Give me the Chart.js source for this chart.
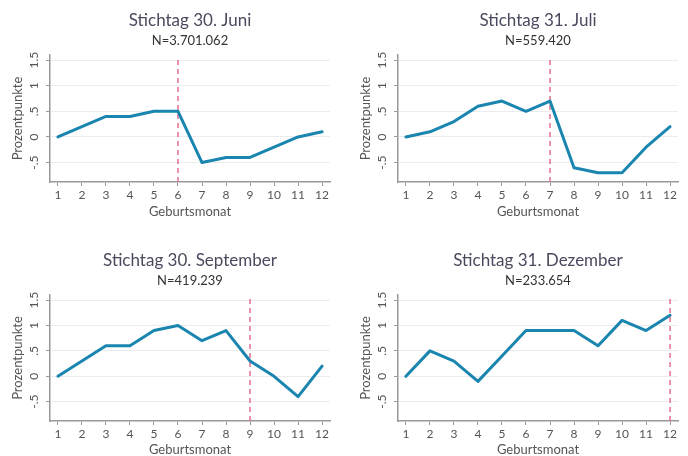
<!DOCTYPE html>
<html>
<head>
<meta charset="utf-8">
<script src="https://cdn.jsdelivr.net/npm/chart.js@4"></script>
<style>
  html, body { margin:0; padding:0; background:#fff; }
  #wrap { position:relative; width:688px; height:456px; }
  .panel { position:absolute; width:344px; height:228px; }
</style>
</head>
<body>
<div id="wrap">
  <div class="panel" style="left:0;top:0"><canvas id="c0" width="344" height="228"></canvas></div>
  <div class="panel" style="left:344px;top:0"><canvas id="c1" width="344" height="228"></canvas></div>
  <div class="panel" style="left:0;top:228px"><canvas id="c2" width="344" height="228"></canvas></div>
  <div class="panel" style="left:344px;top:228px"><canvas id="c3" width="344" height="228"></canvas></div>
</div>
<script>
// Geburtsmonat 1..12
const months = [1, 2, 3, 4, 5, 6, 7, 8, 9, 10, 11, 12];
const yTicks = [-0.5, 0, 0.5, 1, 1.5];
const yTickLabels = ['-.5', '0', '.5', '1', '1.5'];

const titles = ['Stichtag 30. Juni', 'Stichtag 31. Juli', 'Stichtag 30. September', 'Stichtag 31. Dezember'];
const nLabels = ['N=3.701.062', 'N=559.420', 'N=419.239', 'N=233.654'];
const cutoffs = [6, 7, 9, 12];

const juni      = [0, 0.2, 0.4, 0.4, 0.5, 0.5, -0.5, -0.4, -0.4, -0.2, 0, 0.1];
const juli      = [0, 0.1, 0.3, 0.6, 0.7, 0.5, 0.7, -0.6, -0.7, -0.7, -0.2, 0.2];
const september = [0, 0.3, 0.6, 0.6, 0.9, 1.0, 0.7, 0.9, 0.3, 0, -0.4, 0.2];
const dezember  = [0, 0.5, 0.3, -0.1, 0.4, 0.9, 0.9, 0.9, 0.6, 1.1, 0.9, 1.2];
const series = [juni, juli, september, dezember];

const Y_MIN = -0.88, Y_MAX = 1.6;
const FONT = 'Lato, "Open Sans", sans-serif';

// rotated y tick labels (Stata style), positioned via the y scale
const yLabels = {
  id: 'yLabels',
  afterDraw(chart) {
    const s = chart.scales.y, ctx = chart.ctx;
    ctx.save();
    ctx.font = '12px ' + FONT;
    ctx.fillStyle = '#555';
    ctx.textAlign = 'center'; ctx.textBaseline = 'middle';
    yTicks.forEach((v, i) => {
      ctx.save();
      ctx.translate(chart.chartArea.left - 16, s.getPixelForValue(v));
      ctx.rotate(-Math.PI / 2);
      ctx.fillText(yTickLabels[i], 0, 0);
      ctx.restore();
    });
    ctx.restore();
  }
};

series.forEach((vals, k) => {
  const bottomRow = k >= 2, rightCol = k % 2 === 1;
  const cut = cutoffs[k];
  new Chart(document.getElementById('c' + k), {
    type: 'line',
    data: {
      datasets: [
        { data: months.map((m, i) => ({ x: m, y: vals[i] })), borderColor: '#1a86b0', borderWidth: 3,
          pointRadius: 0, tension: 0, borderJoinStyle: 'round', borderCapStyle: 'round' },
        { data: [{ x: cut, y: Y_MIN }, { x: cut, y: Y_MAX - 0.05 }], borderColor: '#e0708c', borderWidth: 1.5,
          borderDash: [5, 4], pointRadius: 0 }
      ]
    },
    options: {
      responsive: false, animation: false,
      layout: { padding: { left: 0, right: rightCol ? 10 : 14, top: 0, bottom: 0 } },
      plugins: {
        legend: { display: false }, tooltip: { enabled: false },
        title: { display: true, text: titles[k], fullSize: false, color: '#4a4a5e',
          font: { family: FONT, size: 17, weight: 'normal' }, padding: { top: bottomRow ? 22 : 10, bottom: 2 } },
        subtitle: { display: true, text: nLabels[k], fullSize: false, color: '#333',
          font: { family: FONT, size: 13 }, padding: { top: 1, bottom: 6 } }
      },
      scales: {
        x: {
          type: 'linear', min: 0.67, max: 12.33,
          afterBuildTicks: s => { s.ticks = months.map(v => ({ value: v })); },
          afterFit: s => { s.height = bottomRow ? 35 : 46; },
          ticks: { color: '#555', font: { family: FONT, size: 12 }, padding: 2, maxRotation: 0, autoSkip: false },
          grid: { drawOnChartArea: false, drawTicks: true, tickLength: 4, tickColor: '#999' },
          border: { color: '#999', width: 1.5 },
          title: { display: true, text: 'Geburtsmonat', color: '#555', font: { family: FONT, size: 13, lineHeight: 1 },
            padding: { top: 0, bottom: bottomRow ? 0 : 10 } }
        },
        y: {
          min: Y_MIN, max: Y_MAX,
          afterBuildTicks: s => { s.ticks = yTicks.map(v => ({ value: v })); },
          afterFit: s => { s.width = rightCol ? 54 : 50; },
          ticks: { display: false },
          grid: { color: '#ececec', lineWidth: 1, drawTicks: true, tickLength: 4, tickColor: '#999' },
          border: { color: '#999', width: 1.5 },
          title: { display: true, text: 'Prozentpunkte', color: '#555', font: { family: FONT, size: 13, lineHeight: 1 },
            padding: { top: rightCol ? 15 : 11, bottom: 0 } }
        }
      }
    },
    plugins: [yLabels]
  });
});
</script>
</body>
</html>
